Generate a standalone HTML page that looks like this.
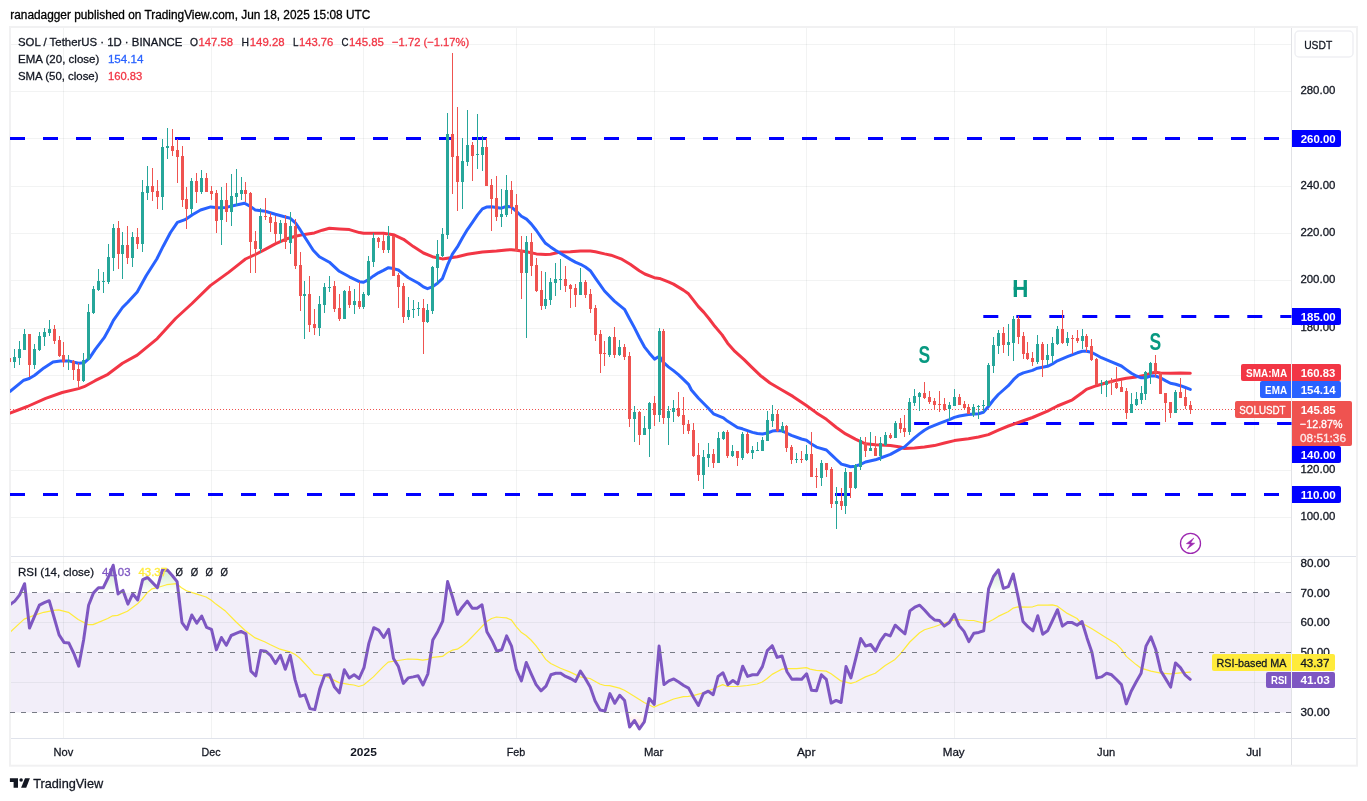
<!DOCTYPE html>
<html><head><meta charset="utf-8"><title>SOL / TetherUS</title><style>html,body{margin:0;padding:0;background:#fff;}body{width:1367px;height:801px;overflow:hidden;font-family:"Liberation Sans",sans-serif;}</style></head><body>
<svg width="1367" height="801" viewBox="0 0 1367 801" style="display:block;will-change:transform;opacity:0.999">
<defs>
<clipPath id="cm"><rect x="10" y="28" width="1281.5" height="528"/></clipPath>
<clipPath id="cr"><rect x="11" y="557" width="1280.5" height="181"/></clipPath>
<clipPath id="c70"><rect x="11" y="557" width="1280.5" height="35.7"/></clipPath>
<clipPath id="c30"><rect x="11" y="712.5" width="1280.5" height="25.5"/></clipPath>
<linearGradient id="gob" gradientUnits="userSpaceOnUse" x1="0" y1="502.9" x2="0" y2="592.7"><stop offset="0" stop-color="#4caf50" stop-opacity="1"/><stop offset="1" stop-color="#4caf50" stop-opacity="0"/></linearGradient>
<linearGradient id="gos" gradientUnits="userSpaceOnUse" x1="0" y1="712.5" x2="0" y2="802.4"><stop offset="0" stop-color="#ff5252" stop-opacity="0"/><stop offset="1" stop-color="#ff5252" stop-opacity="1"/></linearGradient>
</defs>
<rect width="1367" height="801" fill="#ffffff"/>
<rect x="10" y="27" width="1347" height="738.7" fill="#ffffff" stroke="#f1f1f2" stroke-width="2"/>
<rect x="11" y="592.7" width="1280.5" height="119.8" fill="#7e57c2" fill-opacity="0.1"/>
<line x1="63.5" y1="28" x2="63.5" y2="738" stroke="rgba(42,46,57,0.06)" stroke-width="1"/>
<line x1="211.5" y1="28" x2="211.5" y2="738" stroke="rgba(42,46,57,0.06)" stroke-width="1"/>
<line x1="363.5" y1="28" x2="363.5" y2="738" stroke="rgba(42,46,57,0.06)" stroke-width="1"/>
<line x1="516.5" y1="28" x2="516.5" y2="738" stroke="rgba(42,46,57,0.06)" stroke-width="1"/>
<line x1="654.5" y1="28" x2="654.5" y2="738" stroke="rgba(42,46,57,0.06)" stroke-width="1"/>
<line x1="806.5" y1="28" x2="806.5" y2="738" stroke="rgba(42,46,57,0.06)" stroke-width="1"/>
<line x1="954.5" y1="28" x2="954.5" y2="738" stroke="rgba(42,46,57,0.06)" stroke-width="1"/>
<line x1="1106.5" y1="28" x2="1106.5" y2="738" stroke="rgba(42,46,57,0.06)" stroke-width="1"/>
<line x1="1254.5" y1="28" x2="1254.5" y2="738" stroke="rgba(42,46,57,0.06)" stroke-width="1"/>
<line x1="11" y1="517.5" x2="1291" y2="517.5" stroke="rgba(42,46,57,0.06)" stroke-width="1"/>
<line x1="11" y1="470.5" x2="1291" y2="470.5" stroke="rgba(42,46,57,0.06)" stroke-width="1"/>
<line x1="11" y1="423.5" x2="1291" y2="423.5" stroke="rgba(42,46,57,0.06)" stroke-width="1"/>
<line x1="11" y1="375.5" x2="1291" y2="375.5" stroke="rgba(42,46,57,0.06)" stroke-width="1"/>
<line x1="11" y1="328.5" x2="1291" y2="328.5" stroke="rgba(42,46,57,0.06)" stroke-width="1"/>
<line x1="11" y1="280.5" x2="1291" y2="280.5" stroke="rgba(42,46,57,0.06)" stroke-width="1"/>
<line x1="11" y1="233.5" x2="1291" y2="233.5" stroke="rgba(42,46,57,0.06)" stroke-width="1"/>
<line x1="11" y1="186.5" x2="1291" y2="186.5" stroke="rgba(42,46,57,0.06)" stroke-width="1"/>
<line x1="11" y1="138.5" x2="1291" y2="138.5" stroke="rgba(42,46,57,0.06)" stroke-width="1"/>
<line x1="11" y1="91.5" x2="1291" y2="91.5" stroke="rgba(42,46,57,0.06)" stroke-width="1"/>
<line x1="11" y1="44.5" x2="1291" y2="44.5" stroke="rgba(42,46,57,0.06)" stroke-width="1"/>
<line x1="11" y1="562.5" x2="1291" y2="562.5" stroke="rgba(42,46,57,0.06)" stroke-width="1"/>
<line x1="11" y1="622.5" x2="1291" y2="622.5" stroke="rgba(42,46,57,0.06)" stroke-width="1"/>
<line x1="11" y1="682.5" x2="1291" y2="682.5" stroke="rgba(42,46,57,0.06)" stroke-width="1"/>
<line x1="11" y1="556.5" x2="1356" y2="556.5" stroke="#e0e3eb" stroke-width="1"/>
<line x1="11" y1="738.5" x2="1356" y2="738.5" stroke="#e0e3eb" stroke-width="1"/>
<line x1="1291.5" y1="28" x2="1291.5" y2="765" stroke="#e1e2e6" stroke-width="1"/>
<g clip-path="url(#cm)">
<line x1="10.0" y1="138.5" x2="1292.0" y2="138.5" stroke="#0000ff" stroke-width="3" stroke-dasharray="15 18"/>
<line x1="10.0" y1="494.5" x2="1292.0" y2="494.5" stroke="#0000ff" stroke-width="3" stroke-dasharray="15 18"/>
<line x1="983.3" y1="316.5" x2="1292.0" y2="316.5" stroke="#0000ff" stroke-width="3" stroke-dasharray="15 18"/>
<line x1="914.1" y1="423.5" x2="1292.0" y2="423.5" stroke="#0000ff" stroke-width="3" stroke-dasharray="15 18"/>
<line x1="10" y1="409.5" x2="1291" y2="409.5" stroke="#ef5350" stroke-width="1" stroke-dasharray="1 2"/>
<polyline points="10.0,413.2 27.4,406.5 45.7,398.4 62.2,392.5 78.6,388.6 84.1,386.7 95.1,380.7 107.9,374.3 122.5,363.3 137.2,355.1 157.3,338.6 175.6,318.5 192.0,303.5 210.3,285.6 228.6,272.4 240.0,263.4 245.5,259.0 255.4,254.5 265.2,249.3 275.3,243.9 285.4,239.3 295.4,236.2 304.4,234.4 314.4,232.9 322.3,230.2 329.4,228.3 339.3,228.9 349.4,229.6 359.4,232.6 363.6,233.3 373.5,233.3 383.4,233.3 393.4,234.7 403.5,239.3 413.4,246.6 423.4,253.0 432.4,256.7 442.4,258.9 447.4,258.2 457.4,256.7 467.4,254.2 482.4,251.9 496.5,251.0 506.4,249.9 511.5,249.7 516.4,250.2 526.5,251.7 536.4,253.9 545.5,254.6 550.5,254.2 560.3,252.0 570.4,251.7 580.5,251.0 590.3,251.0 595.4,251.7 604.6,253.9 611.0,255.2 621.0,258.8 630.2,264.3 639.3,270.7 644.8,274.0 654.3,277.7 659.5,278.4 668.4,281.9 673.5,284.1 683.4,290.1 688.5,293.8 693.4,300.2 698.4,306.6 703.9,312.4 709.3,319.0 714.8,326.3 722.1,334.9 727.6,343.2 734.9,351.4 744.1,359.6 751.4,366.9 760.0,375.2 770.0,383.0 781.9,390.0 792.9,396.4 806.4,405.5 816.5,412.9 826.4,419.3 836.4,427.5 845.6,433.9 855.4,439.1 865.5,443.8 875.4,444.8 890.4,445.6 900.4,447.0 904.4,448.5 914.5,448.0 924.4,447.0 934.4,445.6 944.5,443.0 954.4,440.6 968.4,438.8 978.5,437.0 988.4,434.6 998.4,430.2 1008.4,426.0 1018.4,422.5 1032.5,417.5 1047.5,411.2 1057.4,406.0 1072.4,399.8 1082.4,392.5 1086.4,389.4 1096.5,385.7 1106.4,382.8 1116.4,380.2 1126.3,378.2 1136.4,376.9 1145.5,375.1 1150.4,373.3 1155.6,372.3 1160.5,372.9 1170.4,373.3 1180.4,372.9 1190.3,373.3" fill="none" stroke="#f23645" stroke-width="3" stroke-linejoin="round" stroke-linecap="round" />
<polyline points="10.2,391.3 23.8,380.2 29.3,378.5 34.7,375.2 43.9,367.9 53.0,362.0 60.4,361.0 69.5,361.1 78.6,363.3 84.1,362.8 89.6,357.8 95.1,349.6 104.2,337.7 109.7,327.7 113.4,320.4 122.5,307.5 128.0,302.0 137.2,292.0 146.3,275.5 156.8,259.0 163.2,246.2 170.5,232.5 177.4,222.4 185.1,219.7 192.4,214.7 200.6,210.0 210.7,206.9 218.0,207.8 226.2,207.4 236.3,205.0 244.5,203.2 250.4,206.4 255.4,210.1 265.2,211.3 275.3,214.3 285.4,217.0 290.3,218.3 295.4,222.9 300.4,230.2 306.8,240.2 313.2,250.3 319.4,256.7 329.4,262.2 339.3,271.3 349.4,276.8 359.4,281.7 363.6,282.3 368.6,279.6 373.5,275.9 378.4,272.8 383.4,270.4 388.5,267.7 393.4,268.6 398.4,270.0 403.5,274.1 408.4,277.7 418.5,283.2 423.4,286.9 427.5,288.7 432.4,286.9 437.5,283.2 442.4,278.6 447.5,265.2 452.4,254.2 457.4,246.9 462.5,237.8 467.4,229.6 472.6,222.2 477.5,214.9 482.4,208.9 486.5,207.1 491.4,206.7 496.5,207.6 501.4,208.2 506.4,206.3 511.5,207.1 516.4,211.3 521.4,216.2 526.5,219.1 531.4,224.1 536.4,230.5 541.5,237.8 545.5,243.3 550.5,246.9 555.4,250.2 560.3,253.3 565.5,256.4 570.4,259.4 575.3,262.1 580.5,264.3 585.4,267.0 590.3,270.7 595.4,278.2 604.5,291.0 614.4,301.1 624.5,309.3 629.4,318.5 634.4,327.6 639.5,337.7 644.4,346.8 649.4,353.2 654.5,359.1 659.4,356.3 663.4,362.4 668.4,366.9 673.5,370.6 678.4,374.6 683.4,379.4 688.5,384.3 691.4,390.0 698.5,398.2 708.4,408.3 713.5,413.8 723.4,417.8 727.4,421.1 737.5,427.5 742.4,428.8 752.5,432.4 757.4,433.5 762.5,433.9 767.5,433.0 772.4,431.1 777.5,430.6 782.5,431.1 786.5,433.0 791.4,435.4 801.5,439.0 806.4,440.3 811.4,443.9 816.5,447.1 826.4,450.0 831.5,454.9 836.4,459.5 841.4,464.1 845.6,465.3 850.5,466.8 855.4,466.2 860.5,464.4 865.5,462.0 875.4,459.8 880.5,458.0 890.4,454.4 900.4,448.9 904.4,447.0 909.4,442.5 914.5,437.9 919.4,433.9 924.4,430.2 929.5,427.3 939.4,423.3 949.4,419.6 954.4,417.4 959.5,416.0 968.4,414.5 978.5,413.8 983.4,412.3 988.4,406.5 993.4,400.0 998.3,394.5 1003.4,390.0 1008.3,385.7 1013.5,379.7 1018.4,375.2 1023.3,372.9 1032.5,370.4 1037.4,368.2 1047.5,366.3 1052.4,364.0 1057.4,360.8 1067.4,356.7 1077.3,352.8 1082.4,351.3 1086.4,351.3 1091.4,352.2 1096.5,355.0 1101.4,357.7 1111.5,361.9 1121.4,366.0 1126.3,369.6 1131.4,373.3 1136.4,376.0 1141.3,377.8 1145.5,377.8 1150.4,376.0 1155.6,376.0 1160.5,377.8 1165.4,380.6 1170.4,383.3 1175.5,384.2 1180.4,385.7 1185.4,387.5 1190.3,389.4" fill="none" stroke="#2962ff" stroke-width="3" stroke-linejoin="round" stroke-linecap="round" />
<rect x="9" y="358" width="1" height="4" fill="#ef5350"/>
<rect x="8" y="358" width="3" height="4" fill="#ef5350"/>
<rect x="14" y="349" width="1" height="19" fill="#26a69a"/>
<rect x="13" y="357" width="3" height="5" fill="#26a69a"/>
<rect x="19" y="341" width="1" height="24" fill="#26a69a"/>
<rect x="18" y="349" width="3" height="9" fill="#26a69a"/>
<rect x="24" y="329" width="1" height="21" fill="#26a69a"/>
<rect x="23" y="334" width="3" height="16" fill="#26a69a"/>
<rect x="29" y="334" width="1" height="43" fill="#ef5350"/>
<rect x="28" y="334" width="3" height="31" fill="#ef5350"/>
<rect x="34" y="344" width="1" height="25" fill="#26a69a"/>
<rect x="33" y="349" width="3" height="16" fill="#26a69a"/>
<rect x="39" y="332" width="1" height="19" fill="#26a69a"/>
<rect x="38" y="336" width="3" height="14" fill="#26a69a"/>
<rect x="44" y="328" width="1" height="18" fill="#26a69a"/>
<rect x="43" y="332" width="3" height="5" fill="#26a69a"/>
<rect x="49" y="320" width="1" height="16" fill="#26a69a"/>
<rect x="48" y="329" width="3" height="4" fill="#26a69a"/>
<rect x="54" y="325" width="1" height="19" fill="#ef5350"/>
<rect x="53" y="329" width="3" height="12" fill="#ef5350"/>
<rect x="59" y="336" width="1" height="21" fill="#ef5350"/>
<rect x="58" y="340" width="3" height="16" fill="#ef5350"/>
<rect x="63" y="342" width="1" height="25" fill="#ef5350"/>
<rect x="62" y="355" width="3" height="7" fill="#ef5350"/>
<rect x="68" y="355" width="1" height="15" fill="#26a69a"/>
<rect x="67" y="361" width="3" height="1" fill="#26a69a"/>
<rect x="73" y="360" width="1" height="20" fill="#ef5350"/>
<rect x="72" y="361" width="3" height="9" fill="#ef5350"/>
<rect x="78" y="363" width="1" height="24" fill="#ef5350"/>
<rect x="77" y="369" width="3" height="12" fill="#ef5350"/>
<rect x="83" y="353" width="1" height="29" fill="#26a69a"/>
<rect x="82" y="360" width="3" height="21" fill="#26a69a"/>
<rect x="88" y="304" width="1" height="56" fill="#26a69a"/>
<rect x="87" y="312" width="3" height="48" fill="#26a69a"/>
<rect x="93" y="286" width="1" height="28" fill="#26a69a"/>
<rect x="92" y="289" width="3" height="24" fill="#26a69a"/>
<rect x="98" y="269" width="1" height="22" fill="#26a69a"/>
<rect x="97" y="281" width="3" height="9" fill="#26a69a"/>
<rect x="103" y="272" width="1" height="21" fill="#26a69a"/>
<rect x="102" y="281" width="3" height="1" fill="#26a69a"/>
<rect x="108" y="244" width="1" height="40" fill="#26a69a"/>
<rect x="107" y="257" width="3" height="25" fill="#26a69a"/>
<rect x="113" y="224" width="1" height="47" fill="#26a69a"/>
<rect x="112" y="228" width="3" height="30" fill="#26a69a"/>
<rect x="118" y="221" width="1" height="48" fill="#ef5350"/>
<rect x="117" y="228" width="3" height="26" fill="#ef5350"/>
<rect x="122" y="232" width="1" height="47" fill="#26a69a"/>
<rect x="121" y="245" width="3" height="9" fill="#26a69a"/>
<rect x="127" y="226" width="1" height="38" fill="#ef5350"/>
<rect x="126" y="245" width="3" height="13" fill="#ef5350"/>
<rect x="132" y="232" width="1" height="35" fill="#26a69a"/>
<rect x="131" y="237" width="3" height="21" fill="#26a69a"/>
<rect x="137" y="228" width="1" height="21" fill="#ef5350"/>
<rect x="136" y="237" width="3" height="7" fill="#ef5350"/>
<rect x="142" y="180" width="1" height="72" fill="#26a69a"/>
<rect x="141" y="192" width="3" height="52" fill="#26a69a"/>
<rect x="147" y="166" width="1" height="34" fill="#26a69a"/>
<rect x="146" y="186" width="3" height="7" fill="#26a69a"/>
<rect x="152" y="168" width="1" height="33" fill="#ef5350"/>
<rect x="151" y="186" width="3" height="6" fill="#ef5350"/>
<rect x="157" y="180" width="1" height="29" fill="#ef5350"/>
<rect x="156" y="191" width="3" height="6" fill="#ef5350"/>
<rect x="162" y="139" width="1" height="71" fill="#26a69a"/>
<rect x="161" y="147" width="3" height="50" fill="#26a69a"/>
<rect x="167" y="128" width="1" height="31" fill="#26a69a"/>
<rect x="166" y="146" width="3" height="2" fill="#26a69a"/>
<rect x="172" y="129" width="1" height="27" fill="#ef5350"/>
<rect x="171" y="146" width="3" height="5" fill="#ef5350"/>
<rect x="177" y="139" width="1" height="44" fill="#ef5350"/>
<rect x="176" y="150" width="3" height="7" fill="#ef5350"/>
<rect x="182" y="146" width="1" height="61" fill="#ef5350"/>
<rect x="181" y="156" width="3" height="44" fill="#ef5350"/>
<rect x="186" y="187" width="1" height="42" fill="#ef5350"/>
<rect x="185" y="199" width="3" height="10" fill="#ef5350"/>
<rect x="191" y="178" width="1" height="36" fill="#26a69a"/>
<rect x="190" y="181" width="3" height="28" fill="#26a69a"/>
<rect x="196" y="173" width="1" height="30" fill="#ef5350"/>
<rect x="195" y="181" width="3" height="11" fill="#ef5350"/>
<rect x="201" y="170" width="1" height="24" fill="#26a69a"/>
<rect x="200" y="178" width="3" height="14" fill="#26a69a"/>
<rect x="206" y="173" width="1" height="19" fill="#ef5350"/>
<rect x="205" y="178" width="3" height="14" fill="#ef5350"/>
<rect x="211" y="186" width="1" height="14" fill="#ef5350"/>
<rect x="210" y="191" width="3" height="3" fill="#ef5350"/>
<rect x="216" y="190" width="1" height="43" fill="#ef5350"/>
<rect x="215" y="193" width="3" height="28" fill="#ef5350"/>
<rect x="221" y="187" width="1" height="58" fill="#26a69a"/>
<rect x="220" y="200" width="3" height="20" fill="#26a69a"/>
<rect x="226" y="183" width="1" height="39" fill="#ef5350"/>
<rect x="225" y="200" width="3" height="12" fill="#ef5350"/>
<rect x="231" y="174" width="1" height="52" fill="#26a69a"/>
<rect x="230" y="196" width="3" height="16" fill="#26a69a"/>
<rect x="236" y="169" width="1" height="37" fill="#26a69a"/>
<rect x="235" y="193" width="3" height="4" fill="#26a69a"/>
<rect x="241" y="177" width="1" height="23" fill="#26a69a"/>
<rect x="240" y="190" width="3" height="4" fill="#26a69a"/>
<rect x="245" y="182" width="1" height="20" fill="#ef5350"/>
<rect x="244" y="190" width="3" height="4" fill="#ef5350"/>
<rect x="250" y="192" width="1" height="81" fill="#ef5350"/>
<rect x="249" y="193" width="3" height="49" fill="#ef5350"/>
<rect x="255" y="231" width="1" height="42" fill="#ef5350"/>
<rect x="254" y="241" width="3" height="8" fill="#ef5350"/>
<rect x="260" y="208" width="1" height="45" fill="#26a69a"/>
<rect x="259" y="216" width="3" height="33" fill="#26a69a"/>
<rect x="265" y="198" width="1" height="22" fill="#ef5350"/>
<rect x="264" y="216" width="3" height="1" fill="#ef5350"/>
<rect x="270" y="213" width="1" height="19" fill="#ef5350"/>
<rect x="269" y="217" width="3" height="6" fill="#ef5350"/>
<rect x="275" y="216" width="1" height="27" fill="#ef5350"/>
<rect x="274" y="222" width="3" height="12" fill="#ef5350"/>
<rect x="280" y="220" width="1" height="23" fill="#26a69a"/>
<rect x="279" y="223" width="3" height="11" fill="#26a69a"/>
<rect x="285" y="215" width="1" height="34" fill="#ef5350"/>
<rect x="284" y="223" width="3" height="19" fill="#ef5350"/>
<rect x="290" y="212" width="1" height="42" fill="#26a69a"/>
<rect x="289" y="226" width="3" height="17" fill="#26a69a"/>
<rect x="295" y="219" width="1" height="50" fill="#ef5350"/>
<rect x="294" y="226" width="3" height="40" fill="#ef5350"/>
<rect x="300" y="252" width="1" height="59" fill="#ef5350"/>
<rect x="299" y="265" width="3" height="31" fill="#ef5350"/>
<rect x="304" y="281" width="1" height="58" fill="#26a69a"/>
<rect x="303" y="294" width="3" height="2" fill="#26a69a"/>
<rect x="309" y="276" width="1" height="56" fill="#ef5350"/>
<rect x="308" y="294" width="3" height="31" fill="#ef5350"/>
<rect x="314" y="309" width="1" height="26" fill="#ef5350"/>
<rect x="313" y="324" width="3" height="4" fill="#ef5350"/>
<rect x="319" y="296" width="1" height="40" fill="#26a69a"/>
<rect x="318" y="304" width="3" height="24" fill="#26a69a"/>
<rect x="324" y="283" width="1" height="30" fill="#26a69a"/>
<rect x="323" y="287" width="3" height="18" fill="#26a69a"/>
<rect x="329" y="276" width="1" height="16" fill="#26a69a"/>
<rect x="328" y="287" width="3" height="1" fill="#26a69a"/>
<rect x="334" y="281" width="1" height="31" fill="#ef5350"/>
<rect x="333" y="286" width="3" height="23" fill="#ef5350"/>
<rect x="339" y="294" width="1" height="27" fill="#ef5350"/>
<rect x="338" y="308" width="3" height="11" fill="#ef5350"/>
<rect x="344" y="290" width="1" height="29" fill="#26a69a"/>
<rect x="343" y="291" width="3" height="28" fill="#26a69a"/>
<rect x="349" y="286" width="1" height="22" fill="#ef5350"/>
<rect x="348" y="291" width="3" height="14" fill="#ef5350"/>
<rect x="354" y="289" width="1" height="25" fill="#26a69a"/>
<rect x="353" y="301" width="3" height="4" fill="#26a69a"/>
<rect x="359" y="282" width="1" height="27" fill="#ef5350"/>
<rect x="358" y="301" width="3" height="6" fill="#ef5350"/>
<rect x="363" y="292" width="1" height="17" fill="#26a69a"/>
<rect x="362" y="294" width="3" height="13" fill="#26a69a"/>
<rect x="368" y="256" width="1" height="40" fill="#26a69a"/>
<rect x="367" y="261" width="3" height="34" fill="#26a69a"/>
<rect x="373" y="233" width="1" height="34" fill="#26a69a"/>
<rect x="372" y="238" width="3" height="24" fill="#26a69a"/>
<rect x="378" y="237" width="1" height="11" fill="#ef5350"/>
<rect x="377" y="238" width="3" height="4" fill="#ef5350"/>
<rect x="383" y="234" width="1" height="19" fill="#ef5350"/>
<rect x="382" y="241" width="3" height="9" fill="#ef5350"/>
<rect x="388" y="226" width="1" height="27" fill="#26a69a"/>
<rect x="387" y="236" width="3" height="14" fill="#26a69a"/>
<rect x="393" y="236" width="1" height="40" fill="#ef5350"/>
<rect x="392" y="236" width="3" height="40" fill="#ef5350"/>
<rect x="398" y="273" width="1" height="35" fill="#ef5350"/>
<rect x="397" y="275" width="3" height="12" fill="#ef5350"/>
<rect x="403" y="283" width="1" height="40" fill="#ef5350"/>
<rect x="402" y="286" width="3" height="31" fill="#ef5350"/>
<rect x="408" y="297" width="1" height="23" fill="#26a69a"/>
<rect x="407" y="310" width="3" height="7" fill="#26a69a"/>
<rect x="413" y="300" width="1" height="18" fill="#26a69a"/>
<rect x="412" y="309" width="3" height="1" fill="#26a69a"/>
<rect x="418" y="302" width="1" height="14" fill="#26a69a"/>
<rect x="417" y="308" width="3" height="1" fill="#26a69a"/>
<rect x="423" y="299" width="1" height="55" fill="#ef5350"/>
<rect x="422" y="308" width="3" height="14" fill="#ef5350"/>
<rect x="427" y="304" width="1" height="19" fill="#26a69a"/>
<rect x="426" y="310" width="3" height="12" fill="#26a69a"/>
<rect x="432" y="266" width="1" height="48" fill="#26a69a"/>
<rect x="431" y="267" width="3" height="44" fill="#26a69a"/>
<rect x="437" y="240" width="1" height="44" fill="#26a69a"/>
<rect x="436" y="254" width="3" height="14" fill="#26a69a"/>
<rect x="442" y="228" width="1" height="29" fill="#26a69a"/>
<rect x="441" y="234" width="3" height="22" fill="#26a69a"/>
<rect x="447" y="113" width="1" height="126" fill="#26a69a"/>
<rect x="446" y="134" width="3" height="101" fill="#26a69a"/>
<rect x="452" y="53" width="1" height="141" fill="#ef5350"/>
<rect x="451" y="134" width="3" height="23" fill="#ef5350"/>
<rect x="457" y="107" width="1" height="104" fill="#ef5350"/>
<rect x="456" y="156" width="3" height="26" fill="#ef5350"/>
<rect x="462" y="138" width="1" height="71" fill="#26a69a"/>
<rect x="461" y="161" width="3" height="21" fill="#26a69a"/>
<rect x="467" y="110" width="1" height="56" fill="#26a69a"/>
<rect x="466" y="145" width="3" height="17" fill="#26a69a"/>
<rect x="472" y="142" width="1" height="39" fill="#ef5350"/>
<rect x="471" y="145" width="3" height="11" fill="#ef5350"/>
<rect x="477" y="114" width="1" height="55" fill="#26a69a"/>
<rect x="476" y="154" width="3" height="1" fill="#26a69a"/>
<rect x="482" y="136" width="1" height="35" fill="#26a69a"/>
<rect x="481" y="147" width="3" height="8" fill="#26a69a"/>
<rect x="486" y="138" width="1" height="48" fill="#ef5350"/>
<rect x="485" y="147" width="3" height="39" fill="#ef5350"/>
<rect x="491" y="179" width="1" height="52" fill="#ef5350"/>
<rect x="490" y="185" width="3" height="14" fill="#ef5350"/>
<rect x="496" y="176" width="1" height="45" fill="#ef5350"/>
<rect x="495" y="198" width="3" height="19" fill="#ef5350"/>
<rect x="501" y="189" width="1" height="38" fill="#26a69a"/>
<rect x="500" y="214" width="3" height="3" fill="#26a69a"/>
<rect x="506" y="175" width="1" height="42" fill="#26a69a"/>
<rect x="505" y="190" width="3" height="25" fill="#26a69a"/>
<rect x="511" y="181" width="1" height="33" fill="#ef5350"/>
<rect x="510" y="190" width="3" height="17" fill="#ef5350"/>
<rect x="516" y="194" width="1" height="57" fill="#ef5350"/>
<rect x="515" y="205" width="3" height="46" fill="#ef5350"/>
<rect x="521" y="236" width="1" height="63" fill="#ef5350"/>
<rect x="520" y="250" width="3" height="23" fill="#ef5350"/>
<rect x="526" y="236" width="1" height="102" fill="#26a69a"/>
<rect x="525" y="242" width="3" height="31" fill="#26a69a"/>
<rect x="531" y="233" width="1" height="43" fill="#ef5350"/>
<rect x="530" y="242" width="3" height="24" fill="#ef5350"/>
<rect x="536" y="258" width="1" height="34" fill="#ef5350"/>
<rect x="535" y="265" width="3" height="26" fill="#ef5350"/>
<rect x="541" y="271" width="1" height="39" fill="#ef5350"/>
<rect x="540" y="290" width="3" height="16" fill="#ef5350"/>
<rect x="545" y="272" width="1" height="37" fill="#26a69a"/>
<rect x="544" y="299" width="3" height="7" fill="#26a69a"/>
<rect x="550" y="278" width="1" height="27" fill="#26a69a"/>
<rect x="549" y="282" width="3" height="18" fill="#26a69a"/>
<rect x="555" y="263" width="1" height="33" fill="#26a69a"/>
<rect x="554" y="279" width="3" height="4" fill="#26a69a"/>
<rect x="560" y="259" width="1" height="31" fill="#26a69a"/>
<rect x="559" y="279" width="3" height="1" fill="#26a69a"/>
<rect x="565" y="266" width="1" height="26" fill="#ef5350"/>
<rect x="564" y="279" width="3" height="7" fill="#ef5350"/>
<rect x="570" y="284" width="1" height="24" fill="#ef5350"/>
<rect x="569" y="285" width="3" height="4" fill="#ef5350"/>
<rect x="575" y="284" width="1" height="23" fill="#ef5350"/>
<rect x="574" y="288" width="3" height="7" fill="#ef5350"/>
<rect x="580" y="268" width="1" height="27" fill="#26a69a"/>
<rect x="579" y="282" width="3" height="13" fill="#26a69a"/>
<rect x="585" y="280" width="1" height="18" fill="#ef5350"/>
<rect x="584" y="282" width="3" height="13" fill="#ef5350"/>
<rect x="590" y="289" width="1" height="24" fill="#ef5350"/>
<rect x="589" y="294" width="3" height="15" fill="#ef5350"/>
<rect x="595" y="305" width="1" height="36" fill="#ef5350"/>
<rect x="594" y="308" width="3" height="27" fill="#ef5350"/>
<rect x="600" y="330" width="1" height="43" fill="#ef5350"/>
<rect x="599" y="334" width="3" height="20" fill="#ef5350"/>
<rect x="604" y="341" width="1" height="25" fill="#ef5350"/>
<rect x="603" y="353" width="3" height="1" fill="#ef5350"/>
<rect x="609" y="336" width="1" height="21" fill="#26a69a"/>
<rect x="608" y="337" width="3" height="18" fill="#26a69a"/>
<rect x="614" y="327" width="1" height="31" fill="#ef5350"/>
<rect x="613" y="337" width="3" height="18" fill="#ef5350"/>
<rect x="619" y="340" width="1" height="16" fill="#26a69a"/>
<rect x="618" y="347" width="3" height="8" fill="#26a69a"/>
<rect x="624" y="344" width="1" height="16" fill="#ef5350"/>
<rect x="623" y="347" width="3" height="10" fill="#ef5350"/>
<rect x="629" y="352" width="1" height="75" fill="#ef5350"/>
<rect x="628" y="356" width="3" height="63" fill="#ef5350"/>
<rect x="634" y="406" width="1" height="36" fill="#26a69a"/>
<rect x="633" y="412" width="3" height="7" fill="#26a69a"/>
<rect x="639" y="411" width="1" height="34" fill="#ef5350"/>
<rect x="638" y="412" width="3" height="23" fill="#ef5350"/>
<rect x="644" y="416" width="1" height="19" fill="#26a69a"/>
<rect x="643" y="428" width="3" height="7" fill="#26a69a"/>
<rect x="649" y="402" width="1" height="55" fill="#26a69a"/>
<rect x="648" y="403" width="3" height="26" fill="#26a69a"/>
<rect x="654" y="396" width="1" height="30" fill="#ef5350"/>
<rect x="653" y="403" width="3" height="12" fill="#ef5350"/>
<rect x="659" y="328" width="1" height="94" fill="#26a69a"/>
<rect x="658" y="331" width="3" height="84" fill="#26a69a"/>
<rect x="663" y="329" width="1" height="95" fill="#ef5350"/>
<rect x="662" y="331" width="3" height="87" fill="#ef5350"/>
<rect x="668" y="406" width="1" height="39" fill="#26a69a"/>
<rect x="667" y="411" width="3" height="7" fill="#26a69a"/>
<rect x="673" y="400" width="1" height="22" fill="#26a69a"/>
<rect x="672" y="408" width="3" height="4" fill="#26a69a"/>
<rect x="678" y="392" width="1" height="25" fill="#ef5350"/>
<rect x="677" y="408" width="3" height="8" fill="#ef5350"/>
<rect x="683" y="397" width="1" height="37" fill="#ef5350"/>
<rect x="682" y="415" width="3" height="10" fill="#ef5350"/>
<rect x="688" y="420" width="1" height="14" fill="#ef5350"/>
<rect x="687" y="424" width="3" height="7" fill="#ef5350"/>
<rect x="693" y="423" width="1" height="34" fill="#ef5350"/>
<rect x="692" y="430" width="3" height="26" fill="#ef5350"/>
<rect x="698" y="443" width="1" height="38" fill="#ef5350"/>
<rect x="697" y="455" width="3" height="20" fill="#ef5350"/>
<rect x="703" y="450" width="1" height="39" fill="#26a69a"/>
<rect x="702" y="457" width="3" height="18" fill="#26a69a"/>
<rect x="708" y="443" width="1" height="24" fill="#26a69a"/>
<rect x="707" y="454" width="3" height="4" fill="#26a69a"/>
<rect x="713" y="449" width="1" height="19" fill="#ef5350"/>
<rect x="712" y="454" width="3" height="9" fill="#ef5350"/>
<rect x="718" y="432" width="1" height="31" fill="#26a69a"/>
<rect x="717" y="438" width="3" height="25" fill="#26a69a"/>
<rect x="723" y="431" width="1" height="9" fill="#26a69a"/>
<rect x="722" y="432" width="3" height="7" fill="#26a69a"/>
<rect x="727" y="430" width="1" height="28" fill="#ef5350"/>
<rect x="726" y="432" width="3" height="24" fill="#ef5350"/>
<rect x="732" y="445" width="1" height="12" fill="#26a69a"/>
<rect x="731" y="451" width="3" height="5" fill="#26a69a"/>
<rect x="737" y="451" width="1" height="15" fill="#ef5350"/>
<rect x="736" y="451" width="3" height="7" fill="#ef5350"/>
<rect x="742" y="432" width="1" height="28" fill="#26a69a"/>
<rect x="741" y="434" width="3" height="24" fill="#26a69a"/>
<rect x="747" y="432" width="1" height="22" fill="#ef5350"/>
<rect x="746" y="434" width="3" height="19" fill="#ef5350"/>
<rect x="752" y="446" width="1" height="13" fill="#26a69a"/>
<rect x="751" y="450" width="3" height="3" fill="#26a69a"/>
<rect x="757" y="442" width="1" height="9" fill="#26a69a"/>
<rect x="756" y="450" width="3" height="1" fill="#26a69a"/>
<rect x="762" y="437" width="1" height="14" fill="#26a69a"/>
<rect x="761" y="440" width="3" height="11" fill="#26a69a"/>
<rect x="767" y="411" width="1" height="30" fill="#26a69a"/>
<rect x="766" y="420" width="3" height="21" fill="#26a69a"/>
<rect x="772" y="405" width="1" height="22" fill="#26a69a"/>
<rect x="771" y="414" width="3" height="7" fill="#26a69a"/>
<rect x="777" y="410" width="1" height="22" fill="#ef5350"/>
<rect x="776" y="414" width="3" height="17" fill="#ef5350"/>
<rect x="782" y="422" width="1" height="11" fill="#26a69a"/>
<rect x="781" y="426" width="3" height="5" fill="#26a69a"/>
<rect x="786" y="425" width="1" height="27" fill="#ef5350"/>
<rect x="785" y="426" width="3" height="22" fill="#ef5350"/>
<rect x="791" y="445" width="1" height="19" fill="#ef5350"/>
<rect x="790" y="447" width="3" height="13" fill="#ef5350"/>
<rect x="796" y="453" width="1" height="10" fill="#26a69a"/>
<rect x="795" y="459" width="3" height="1" fill="#26a69a"/>
<rect x="801" y="451" width="1" height="12" fill="#ef5350"/>
<rect x="800" y="459" width="3" height="1" fill="#ef5350"/>
<rect x="806" y="445" width="1" height="16" fill="#26a69a"/>
<rect x="805" y="454" width="3" height="6" fill="#26a69a"/>
<rect x="811" y="432" width="1" height="45" fill="#ef5350"/>
<rect x="810" y="454" width="3" height="23" fill="#ef5350"/>
<rect x="816" y="468" width="1" height="20" fill="#ef5350"/>
<rect x="815" y="476" width="3" height="1" fill="#ef5350"/>
<rect x="821" y="460" width="1" height="26" fill="#26a69a"/>
<rect x="820" y="463" width="3" height="15" fill="#26a69a"/>
<rect x="826" y="463" width="1" height="14" fill="#ef5350"/>
<rect x="825" y="463" width="3" height="7" fill="#ef5350"/>
<rect x="831" y="467" width="1" height="41" fill="#ef5350"/>
<rect x="830" y="469" width="3" height="35" fill="#ef5350"/>
<rect x="836" y="487" width="1" height="42" fill="#26a69a"/>
<rect x="835" y="501" width="3" height="3" fill="#26a69a"/>
<rect x="841" y="488" width="1" height="22" fill="#ef5350"/>
<rect x="840" y="501" width="3" height="5" fill="#ef5350"/>
<rect x="845" y="468" width="1" height="46" fill="#26a69a"/>
<rect x="844" y="472" width="3" height="34" fill="#26a69a"/>
<rect x="850" y="472" width="1" height="26" fill="#ef5350"/>
<rect x="849" y="472" width="3" height="16" fill="#ef5350"/>
<rect x="855" y="464" width="1" height="25" fill="#26a69a"/>
<rect x="854" y="465" width="3" height="23" fill="#26a69a"/>
<rect x="860" y="437" width="1" height="33" fill="#26a69a"/>
<rect x="859" y="440" width="3" height="27" fill="#26a69a"/>
<rect x="865" y="437" width="1" height="20" fill="#ef5350"/>
<rect x="864" y="443" width="3" height="8" fill="#ef5350"/>
<rect x="870" y="432" width="1" height="19" fill="#26a69a"/>
<rect x="869" y="448" width="3" height="3" fill="#26a69a"/>
<rect x="875" y="436" width="1" height="20" fill="#ef5350"/>
<rect x="874" y="448" width="3" height="8" fill="#ef5350"/>
<rect x="880" y="437" width="1" height="24" fill="#26a69a"/>
<rect x="879" y="443" width="3" height="13" fill="#26a69a"/>
<rect x="885" y="432" width="1" height="14" fill="#26a69a"/>
<rect x="884" y="435" width="3" height="10" fill="#26a69a"/>
<rect x="890" y="433" width="1" height="6" fill="#ef5350"/>
<rect x="889" y="435" width="3" height="3" fill="#ef5350"/>
<rect x="895" y="421" width="1" height="17" fill="#26a69a"/>
<rect x="894" y="423" width="3" height="15" fill="#26a69a"/>
<rect x="900" y="418" width="1" height="15" fill="#ef5350"/>
<rect x="899" y="423" width="3" height="6" fill="#ef5350"/>
<rect x="904" y="415" width="1" height="22" fill="#ef5350"/>
<rect x="903" y="428" width="3" height="4" fill="#ef5350"/>
<rect x="909" y="398" width="1" height="37" fill="#26a69a"/>
<rect x="908" y="402" width="3" height="30" fill="#26a69a"/>
<rect x="914" y="389" width="1" height="17" fill="#26a69a"/>
<rect x="913" y="396" width="3" height="7" fill="#26a69a"/>
<rect x="919" y="392" width="1" height="19" fill="#26a69a"/>
<rect x="918" y="393" width="3" height="4" fill="#26a69a"/>
<rect x="924" y="382" width="1" height="17" fill="#ef5350"/>
<rect x="923" y="393" width="3" height="5" fill="#ef5350"/>
<rect x="929" y="391" width="1" height="13" fill="#ef5350"/>
<rect x="928" y="397" width="3" height="5" fill="#ef5350"/>
<rect x="934" y="398" width="1" height="12" fill="#ef5350"/>
<rect x="933" y="401" width="3" height="4" fill="#ef5350"/>
<rect x="939" y="391" width="1" height="21" fill="#ef5350"/>
<rect x="938" y="404" width="3" height="1" fill="#ef5350"/>
<rect x="944" y="398" width="1" height="13" fill="#ef5350"/>
<rect x="943" y="404" width="3" height="6" fill="#ef5350"/>
<rect x="949" y="402" width="1" height="19" fill="#26a69a"/>
<rect x="948" y="405" width="3" height="4" fill="#26a69a"/>
<rect x="954" y="389" width="1" height="17" fill="#26a69a"/>
<rect x="953" y="397" width="3" height="9" fill="#26a69a"/>
<rect x="959" y="394" width="1" height="11" fill="#ef5350"/>
<rect x="958" y="397" width="3" height="8" fill="#ef5350"/>
<rect x="964" y="401" width="1" height="8" fill="#ef5350"/>
<rect x="963" y="404" width="3" height="4" fill="#ef5350"/>
<rect x="968" y="404" width="1" height="10" fill="#ef5350"/>
<rect x="967" y="407" width="3" height="7" fill="#ef5350"/>
<rect x="973" y="404" width="1" height="13" fill="#26a69a"/>
<rect x="972" y="407" width="3" height="8" fill="#26a69a"/>
<rect x="978" y="405" width="1" height="14" fill="#26a69a"/>
<rect x="977" y="406" width="3" height="1" fill="#26a69a"/>
<rect x="983" y="400" width="1" height="12" fill="#26a69a"/>
<rect x="982" y="405" width="3" height="1" fill="#26a69a"/>
<rect x="988" y="363" width="1" height="43" fill="#26a69a"/>
<rect x="987" y="365" width="3" height="41" fill="#26a69a"/>
<rect x="993" y="337" width="1" height="36" fill="#26a69a"/>
<rect x="992" y="345" width="3" height="21" fill="#26a69a"/>
<rect x="998" y="330" width="1" height="24" fill="#26a69a"/>
<rect x="997" y="333" width="3" height="13" fill="#26a69a"/>
<rect x="1003" y="327" width="1" height="26" fill="#ef5350"/>
<rect x="1002" y="333" width="3" height="12" fill="#ef5350"/>
<rect x="1008" y="324" width="1" height="32" fill="#26a69a"/>
<rect x="1007" y="342" width="3" height="3" fill="#26a69a"/>
<rect x="1013" y="316" width="1" height="45" fill="#26a69a"/>
<rect x="1012" y="319" width="3" height="24" fill="#26a69a"/>
<rect x="1018" y="316" width="1" height="28" fill="#ef5350"/>
<rect x="1017" y="319" width="3" height="18" fill="#ef5350"/>
<rect x="1023" y="332" width="1" height="27" fill="#ef5350"/>
<rect x="1022" y="336" width="3" height="18" fill="#ef5350"/>
<rect x="1027" y="342" width="1" height="18" fill="#ef5350"/>
<rect x="1026" y="353" width="3" height="6" fill="#ef5350"/>
<rect x="1032" y="352" width="1" height="14" fill="#ef5350"/>
<rect x="1031" y="358" width="3" height="4" fill="#ef5350"/>
<rect x="1037" y="335" width="1" height="29" fill="#26a69a"/>
<rect x="1036" y="344" width="3" height="18" fill="#26a69a"/>
<rect x="1042" y="342" width="1" height="35" fill="#ef5350"/>
<rect x="1041" y="344" width="3" height="16" fill="#ef5350"/>
<rect x="1047" y="344" width="1" height="21" fill="#26a69a"/>
<rect x="1046" y="355" width="3" height="5" fill="#26a69a"/>
<rect x="1052" y="337" width="1" height="26" fill="#26a69a"/>
<rect x="1051" y="343" width="3" height="13" fill="#26a69a"/>
<rect x="1057" y="326" width="1" height="19" fill="#26a69a"/>
<rect x="1056" y="329" width="3" height="15" fill="#26a69a"/>
<rect x="1062" y="310" width="1" height="34" fill="#ef5350"/>
<rect x="1061" y="329" width="3" height="14" fill="#ef5350"/>
<rect x="1067" y="332" width="1" height="14" fill="#26a69a"/>
<rect x="1066" y="338" width="3" height="5" fill="#26a69a"/>
<rect x="1072" y="335" width="1" height="19" fill="#ef5350"/>
<rect x="1071" y="338" width="3" height="1" fill="#ef5350"/>
<rect x="1077" y="330" width="1" height="13" fill="#ef5350"/>
<rect x="1076" y="338" width="3" height="3" fill="#ef5350"/>
<rect x="1082" y="329" width="1" height="20" fill="#26a69a"/>
<rect x="1081" y="336" width="3" height="5" fill="#26a69a"/>
<rect x="1086" y="334" width="1" height="18" fill="#ef5350"/>
<rect x="1085" y="336" width="3" height="11" fill="#ef5350"/>
<rect x="1091" y="339" width="1" height="22" fill="#ef5350"/>
<rect x="1090" y="346" width="3" height="14" fill="#ef5350"/>
<rect x="1096" y="358" width="1" height="27" fill="#ef5350"/>
<rect x="1095" y="359" width="3" height="26" fill="#ef5350"/>
<rect x="1101" y="380" width="1" height="14" fill="#26a69a"/>
<rect x="1100" y="383" width="3" height="1" fill="#26a69a"/>
<rect x="1106" y="380" width="1" height="17" fill="#26a69a"/>
<rect x="1105" y="381" width="3" height="4" fill="#26a69a"/>
<rect x="1111" y="378" width="1" height="17" fill="#ef5350"/>
<rect x="1110" y="381" width="3" height="2" fill="#ef5350"/>
<rect x="1116" y="367" width="1" height="22" fill="#ef5350"/>
<rect x="1115" y="383" width="3" height="5" fill="#ef5350"/>
<rect x="1121" y="380" width="1" height="12" fill="#ef5350"/>
<rect x="1120" y="387" width="3" height="5" fill="#ef5350"/>
<rect x="1126" y="388" width="1" height="31" fill="#ef5350"/>
<rect x="1125" y="391" width="3" height="22" fill="#ef5350"/>
<rect x="1131" y="393" width="1" height="20" fill="#26a69a"/>
<rect x="1130" y="404" width="3" height="9" fill="#26a69a"/>
<rect x="1136" y="392" width="1" height="14" fill="#26a69a"/>
<rect x="1135" y="399" width="3" height="6" fill="#26a69a"/>
<rect x="1141" y="386" width="1" height="18" fill="#26a69a"/>
<rect x="1140" y="393" width="3" height="7" fill="#26a69a"/>
<rect x="1145" y="371" width="1" height="29" fill="#26a69a"/>
<rect x="1144" y="372" width="3" height="22" fill="#26a69a"/>
<rect x="1150" y="362" width="1" height="22" fill="#26a69a"/>
<rect x="1149" y="363" width="3" height="11" fill="#26a69a"/>
<rect x="1155" y="355" width="1" height="22" fill="#ef5350"/>
<rect x="1154" y="363" width="3" height="10" fill="#ef5350"/>
<rect x="1160" y="372" width="1" height="22" fill="#ef5350"/>
<rect x="1159" y="373" width="3" height="21" fill="#ef5350"/>
<rect x="1165" y="393" width="1" height="29" fill="#ef5350"/>
<rect x="1164" y="393" width="3" height="10" fill="#ef5350"/>
<rect x="1170" y="402" width="1" height="16" fill="#ef5350"/>
<rect x="1169" y="402" width="3" height="11" fill="#ef5350"/>
<rect x="1175" y="390" width="1" height="23" fill="#26a69a"/>
<rect x="1174" y="392" width="3" height="21" fill="#26a69a"/>
<rect x="1180" y="378" width="1" height="20" fill="#ef5350"/>
<rect x="1179" y="392" width="3" height="6" fill="#ef5350"/>
<rect x="1185" y="389" width="1" height="20" fill="#ef5350"/>
<rect x="1184" y="397" width="3" height="9" fill="#ef5350"/>
<rect x="1190" y="401" width="1" height="13" fill="#ef5350"/>
<rect x="1189" y="405" width="3" height="5" fill="#ef5350"/>
</g>
<g clip-path="url(#cr)">
<path d="M9.9,592.7 L9.9,604.8 L14.8,601.1 L19.7,594.9 L24.6,583.7 L29.5,628.1 L34.5,616.4 L39.4,605.2 L44.3,602.7 L49.2,600.7 L54.1,617.5 L59.1,634.9 L64.0,642.4 L68.9,643.1 L73.8,653.3 L78.7,666.2 L83.6,640.0 L88.6,605.2 L93.5,592.9 L98.4,587.7 L103.3,587.7 L108.2,577.5 L113.2,565.2 L118.1,593.9 L123.0,590.4 L127.9,604.1 L132.8,593.9 L137.7,600.0 L142.7,579.6 L147.6,577.5 L152.5,582.6 L157.4,587.7 L162.3,570.3 L167.3,569.9 L172.2,575.5 L177.1,581.6 L182.0,622.6 L186.9,629.3 L191.8,615.0 L196.8,623.2 L201.7,616.0 L206.6,627.3 L211.5,629.3 L216.4,649.8 L221.4,637.5 L226.3,645.3 L231.2,635.5 L236.1,633.4 L241.0,631.4 L245.9,633.8 L250.9,671.1 L255.8,675.8 L260.7,650.6 L265.6,651.2 L270.5,655.3 L275.5,663.5 L280.4,655.3 L285.3,669.3 L290.2,655.3 L295.1,679.9 L300.0,696.3 L305.0,694.9 L309.9,708.6 L314.8,709.6 L319.7,689.1 L324.6,675.2 L329.6,674.8 L334.5,687.1 L339.4,692.8 L344.3,669.7 L349.2,677.9 L354.1,674.8 L359.1,678.5 L364.0,667.6 L368.9,643.1 L373.8,627.7 L378.7,630.1 L383.7,637.5 L388.6,629.3 L393.5,658.4 L398.4,666.6 L403.3,683.4 L408.2,677.9 L413.2,676.9 L418.1,675.8 L423.0,685.0 L427.9,673.8 L432.8,640.0 L437.8,631.4 L442.7,621.1 L447.6,581.6 L452.5,597.0 L457.4,614.4 L462.3,607.2 L467.3,601.1 L472.2,608.2 L477.1,608.2 L482.0,604.8 L486.9,631.8 L491.9,640.4 L496.8,651.2 L501.7,649.8 L506.6,635.9 L511.5,646.1 L516.4,669.7 L521.4,680.9 L526.3,662.5 L531.2,673.8 L536.1,684.6 L541.0,690.8 L546.0,686.1 L550.9,674.8 L555.8,673.2 L560.7,673.2 L565.6,676.4 L570.5,678.5 L575.5,681.4 L580.4,671.1 L585.3,678.5 L590.2,687.1 L595.1,701.0 L600.1,710.0 L605.0,710.9 L609.9,693.6 L614.8,703.3 L619.7,695.3 L624.6,700.6 L629.6,727.0 L634.5,720.5 L639.4,728.9 L644.3,721.9 L649.2,698.4 L654.2,704.3 L659.1,646.1 L664.0,684.6 L668.9,680.9 L673.8,678.9 L678.7,682.0 L683.7,685.5 L688.6,688.1 L693.5,697.3 L698.4,705.5 L703.3,693.6 L708.3,691.2 L713.2,694.7 L718.1,676.4 L723.0,672.8 L727.9,684.6 L732.9,680.5 L737.8,684.0 L742.7,666.2 L747.6,676.4 L752.5,674.8 L757.4,674.8 L762.4,666.6 L767.3,650.6 L772.2,645.7 L777.1,657.4 L782.0,656.0 L787.0,671.7 L791.9,679.3 L796.8,678.9 L801.7,679.3 L806.6,673.8 L811.5,690.2 L816.5,690.8 L821.4,674.8 L826.3,679.3 L831.2,703.1 L836.1,700.4 L841.1,702.5 L846.0,666.6 L850.9,677.9 L855.8,658.4 L860.7,638.5 L865.6,646.1 L870.6,644.5 L875.5,651.2 L880.4,641.0 L885.3,634.2 L890.2,635.9 L895.2,625.2 L900.1,629.7 L905.0,633.8 L909.9,610.9 L914.8,607.2 L919.7,605.2 L924.7,610.3 L929.6,615.8 L934.5,619.9 L939.4,620.5 L944.3,626.1 L949.3,622.6 L954.2,614.4 L959.1,625.6 L964.0,631.4 L968.9,641.6 L973.8,633.2 L978.8,632.4 L983.7,630.8 L988.6,588.8 L993.5,576.5 L998.4,569.9 L1003.4,588.4 L1008.3,586.7 L1013.2,574.0 L1018.1,597.0 L1023.0,621.5 L1027.9,626.7 L1032.9,630.8 L1037.8,615.8 L1042.7,634.2 L1047.6,630.8 L1052.5,620.5 L1057.5,609.7 L1062.4,626.1 L1067.3,622.6 L1072.2,622.6 L1077.1,625.2 L1082.0,621.5 L1087.0,637.9 L1091.9,652.3 L1096.8,677.9 L1101.7,676.9 L1106.6,673.2 L1111.6,674.8 L1116.5,679.5 L1121.4,684.6 L1126.3,703.9 L1131.2,691.2 L1136.1,682.0 L1141.1,673.2 L1146.0,646.1 L1150.9,636.9 L1155.8,649.8 L1160.7,670.7 L1165.7,678.9 L1170.6,687.1 L1175.5,662.9 L1180.4,667.6 L1185.3,675.2 L1190.2,679.3 L1190.2,592.7 Z" fill="url(#gob)" clip-path="url(#c70)"/>
</g>
<g clip-path="url(#c30)"><path d="M9.9,712.5 L9.9,604.8 L14.8,601.1 L19.7,594.9 L24.6,583.7 L29.5,628.1 L34.5,616.4 L39.4,605.2 L44.3,602.7 L49.2,600.7 L54.1,617.5 L59.1,634.9 L64.0,642.4 L68.9,643.1 L73.8,653.3 L78.7,666.2 L83.6,640.0 L88.6,605.2 L93.5,592.9 L98.4,587.7 L103.3,587.7 L108.2,577.5 L113.2,565.2 L118.1,593.9 L123.0,590.4 L127.9,604.1 L132.8,593.9 L137.7,600.0 L142.7,579.6 L147.6,577.5 L152.5,582.6 L157.4,587.7 L162.3,570.3 L167.3,569.9 L172.2,575.5 L177.1,581.6 L182.0,622.6 L186.9,629.3 L191.8,615.0 L196.8,623.2 L201.7,616.0 L206.6,627.3 L211.5,629.3 L216.4,649.8 L221.4,637.5 L226.3,645.3 L231.2,635.5 L236.1,633.4 L241.0,631.4 L245.9,633.8 L250.9,671.1 L255.8,675.8 L260.7,650.6 L265.6,651.2 L270.5,655.3 L275.5,663.5 L280.4,655.3 L285.3,669.3 L290.2,655.3 L295.1,679.9 L300.0,696.3 L305.0,694.9 L309.9,708.6 L314.8,709.6 L319.7,689.1 L324.6,675.2 L329.6,674.8 L334.5,687.1 L339.4,692.8 L344.3,669.7 L349.2,677.9 L354.1,674.8 L359.1,678.5 L364.0,667.6 L368.9,643.1 L373.8,627.7 L378.7,630.1 L383.7,637.5 L388.6,629.3 L393.5,658.4 L398.4,666.6 L403.3,683.4 L408.2,677.9 L413.2,676.9 L418.1,675.8 L423.0,685.0 L427.9,673.8 L432.8,640.0 L437.8,631.4 L442.7,621.1 L447.6,581.6 L452.5,597.0 L457.4,614.4 L462.3,607.2 L467.3,601.1 L472.2,608.2 L477.1,608.2 L482.0,604.8 L486.9,631.8 L491.9,640.4 L496.8,651.2 L501.7,649.8 L506.6,635.9 L511.5,646.1 L516.4,669.7 L521.4,680.9 L526.3,662.5 L531.2,673.8 L536.1,684.6 L541.0,690.8 L546.0,686.1 L550.9,674.8 L555.8,673.2 L560.7,673.2 L565.6,676.4 L570.5,678.5 L575.5,681.4 L580.4,671.1 L585.3,678.5 L590.2,687.1 L595.1,701.0 L600.1,710.0 L605.0,710.9 L609.9,693.6 L614.8,703.3 L619.7,695.3 L624.6,700.6 L629.6,727.0 L634.5,720.5 L639.4,728.9 L644.3,721.9 L649.2,698.4 L654.2,704.3 L659.1,646.1 L664.0,684.6 L668.9,680.9 L673.8,678.9 L678.7,682.0 L683.7,685.5 L688.6,688.1 L693.5,697.3 L698.4,705.5 L703.3,693.6 L708.3,691.2 L713.2,694.7 L718.1,676.4 L723.0,672.8 L727.9,684.6 L732.9,680.5 L737.8,684.0 L742.7,666.2 L747.6,676.4 L752.5,674.8 L757.4,674.8 L762.4,666.6 L767.3,650.6 L772.2,645.7 L777.1,657.4 L782.0,656.0 L787.0,671.7 L791.9,679.3 L796.8,678.9 L801.7,679.3 L806.6,673.8 L811.5,690.2 L816.5,690.8 L821.4,674.8 L826.3,679.3 L831.2,703.1 L836.1,700.4 L841.1,702.5 L846.0,666.6 L850.9,677.9 L855.8,658.4 L860.7,638.5 L865.6,646.1 L870.6,644.5 L875.5,651.2 L880.4,641.0 L885.3,634.2 L890.2,635.9 L895.2,625.2 L900.1,629.7 L905.0,633.8 L909.9,610.9 L914.8,607.2 L919.7,605.2 L924.7,610.3 L929.6,615.8 L934.5,619.9 L939.4,620.5 L944.3,626.1 L949.3,622.6 L954.2,614.4 L959.1,625.6 L964.0,631.4 L968.9,641.6 L973.8,633.2 L978.8,632.4 L983.7,630.8 L988.6,588.8 L993.5,576.5 L998.4,569.9 L1003.4,588.4 L1008.3,586.7 L1013.2,574.0 L1018.1,597.0 L1023.0,621.5 L1027.9,626.7 L1032.9,630.8 L1037.8,615.8 L1042.7,634.2 L1047.6,630.8 L1052.5,620.5 L1057.5,609.7 L1062.4,626.1 L1067.3,622.6 L1072.2,622.6 L1077.1,625.2 L1082.0,621.5 L1087.0,637.9 L1091.9,652.3 L1096.8,677.9 L1101.7,676.9 L1106.6,673.2 L1111.6,674.8 L1116.5,679.5 L1121.4,684.6 L1126.3,703.9 L1131.2,691.2 L1136.1,682.0 L1141.1,673.2 L1146.0,646.1 L1150.9,636.9 L1155.8,649.8 L1160.7,670.7 L1165.7,678.9 L1170.6,687.1 L1175.5,662.9 L1180.4,667.6 L1185.3,675.2 L1190.2,679.3 L1190.2,712.5 Z" fill="url(#gos)"/></g>
<g clip-path="url(#cr)">
<polyline points="9.4,632.8 19.3,623.6 24.2,619.1 34.0,615.4 43.8,612.3 53.7,610.3 58.6,609.9 68.4,612.3 78.2,619.5 88.1,624.6 93.0,624.6 97.9,622.6 107.7,618.5 112.7,615.8 117.6,615.4 127.4,611.3 137.2,604.1 142.2,599.0 147.1,592.9 152.0,588.8 156.9,587.7 166.7,584.7 176.6,583.7 181.5,587.7 186.4,590.8 196.2,593.9 206.1,597.0 211.0,600.0 215.9,604.1 225.7,611.3 235.6,621.5 245.4,630.8 255.2,637.9 265.1,642.0 270.0,644.5 280.0,649.2 289.9,651.9 294.8,654.3 299.7,658.0 309.5,668.7 314.4,674.4 324.3,675.8 329.2,677.9 339.0,682.6 348.9,684.4 353.8,685.0 358.7,686.5 363.6,685.0 373.4,676.9 383.3,666.6 388.2,662.1 398.0,660.5 407.9,659.0 417.7,659.4 422.6,660.1 427.7,659.4 432.6,657.4 442.5,656.4 447.4,652.7 452.3,650.2 457.2,649.2 462.1,646.1 467.1,642.0 476.9,631.8 486.7,621.5 491.6,618.5 496.5,617.0 501.5,617.5 506.4,617.9 511.3,619.9 516.2,626.7 521.1,632.2 526.0,635.5 531.0,640.0 535.9,645.7 540.0,651.2 545.7,659.4 550.7,663.5 560.5,668.2 570.3,672.1 580.1,676.9 590.0,678.5 599.8,684.0 604.7,685.5 609.6,685.7 619.5,688.1 624.4,690.2 634.2,696.3 644.1,702.5 653.9,707.2 658.8,704.9 663.7,703.1 673.6,699.0 683.4,696.7 688.3,696.3 693.2,695.7 703.0,692.8 712.9,689.1 717.8,686.7 722.7,684.6 727.6,686.5 737.5,686.5 747.3,685.5 757.1,684.0 762.2,682.0 767.2,678.5 772.1,674.4 777.0,671.7 781.9,669.1 786.8,668.7 796.7,668.7 806.5,667.6 810.0,669.1 816.3,670.3 826.2,671.1 831.1,673.8 840.9,680.9 850.8,683.4 855.7,682.0 865.5,676.9 875.3,673.2 885.2,665.6 895.0,659.4 899.9,654.3 909.8,642.0 919.6,632.8 924.5,629.7 934.3,626.7 944.2,623.2 954.0,619.9 958.9,619.5 968.7,620.5 973.7,620.5 983.5,623.2 988.4,622.0 993.3,619.5 998.2,616.4 1008.1,611.7 1013.0,608.2 1017.9,606.8 1027.7,607.2 1032.7,606.8 1037.6,605.2 1047.4,605.2 1052.3,604.8 1057.4,606.2 1067.3,613.4 1077.1,618.5 1080.0,622.0 1091.9,628.7 1106.6,637.9 1116.5,644.1 1121.4,649.2 1126.3,656.4 1136.1,664.6 1141.0,668.2 1150.9,671.1 1160.7,673.2 1170.5,673.8 1180.4,672.8 1190.2,672.1" fill="none" stroke="#ffeb3b" stroke-width="1.2" stroke-linejoin="round" stroke-linecap="round" />
<polyline points="9.9,604.8 14.8,601.1 19.7,594.9 24.6,583.7 29.5,628.1 34.5,616.4 39.4,605.2 44.3,602.7 49.2,600.7 54.1,617.5 59.1,634.9 64.0,642.4 68.9,643.1 73.8,653.3 78.7,666.2 83.6,640.0 88.6,605.2 93.5,592.9 98.4,587.7 103.3,587.7 108.2,577.5 113.2,565.2 118.1,593.9 123.0,590.4 127.9,604.1 132.8,593.9 137.7,600.0 142.7,579.6 147.6,577.5 152.5,582.6 157.4,587.7 162.3,570.3 167.3,569.9 172.2,575.5 177.1,581.6 182.0,622.6 186.9,629.3 191.8,615.0 196.8,623.2 201.7,616.0 206.6,627.3 211.5,629.3 216.4,649.8 221.4,637.5 226.3,645.3 231.2,635.5 236.1,633.4 241.0,631.4 245.9,633.8 250.9,671.1 255.8,675.8 260.7,650.6 265.6,651.2 270.5,655.3 275.5,663.5 280.4,655.3 285.3,669.3 290.2,655.3 295.1,679.9 300.0,696.3 305.0,694.9 309.9,708.6 314.8,709.6 319.7,689.1 324.6,675.2 329.6,674.8 334.5,687.1 339.4,692.8 344.3,669.7 349.2,677.9 354.1,674.8 359.1,678.5 364.0,667.6 368.9,643.1 373.8,627.7 378.7,630.1 383.7,637.5 388.6,629.3 393.5,658.4 398.4,666.6 403.3,683.4 408.2,677.9 413.2,676.9 418.1,675.8 423.0,685.0 427.9,673.8 432.8,640.0 437.8,631.4 442.7,621.1 447.6,581.6 452.5,597.0 457.4,614.4 462.3,607.2 467.3,601.1 472.2,608.2 477.1,608.2 482.0,604.8 486.9,631.8 491.9,640.4 496.8,651.2 501.7,649.8 506.6,635.9 511.5,646.1 516.4,669.7 521.4,680.9 526.3,662.5 531.2,673.8 536.1,684.6 541.0,690.8 546.0,686.1 550.9,674.8 555.8,673.2 560.7,673.2 565.6,676.4 570.5,678.5 575.5,681.4 580.4,671.1 585.3,678.5 590.2,687.1 595.1,701.0 600.1,710.0 605.0,710.9 609.9,693.6 614.8,703.3 619.7,695.3 624.6,700.6 629.6,727.0 634.5,720.5 639.4,728.9 644.3,721.9 649.2,698.4 654.2,704.3 659.1,646.1 664.0,684.6 668.9,680.9 673.8,678.9 678.7,682.0 683.7,685.5 688.6,688.1 693.5,697.3 698.4,705.5 703.3,693.6 708.3,691.2 713.2,694.7 718.1,676.4 723.0,672.8 727.9,684.6 732.9,680.5 737.8,684.0 742.7,666.2 747.6,676.4 752.5,674.8 757.4,674.8 762.4,666.6 767.3,650.6 772.2,645.7 777.1,657.4 782.0,656.0 787.0,671.7 791.9,679.3 796.8,678.9 801.7,679.3 806.6,673.8 811.5,690.2 816.5,690.8 821.4,674.8 826.3,679.3 831.2,703.1 836.1,700.4 841.1,702.5 846.0,666.6 850.9,677.9 855.8,658.4 860.7,638.5 865.6,646.1 870.6,644.5 875.5,651.2 880.4,641.0 885.3,634.2 890.2,635.9 895.2,625.2 900.1,629.7 905.0,633.8 909.9,610.9 914.8,607.2 919.7,605.2 924.7,610.3 929.6,615.8 934.5,619.9 939.4,620.5 944.3,626.1 949.3,622.6 954.2,614.4 959.1,625.6 964.0,631.4 968.9,641.6 973.8,633.2 978.8,632.4 983.7,630.8 988.6,588.8 993.5,576.5 998.4,569.9 1003.4,588.4 1008.3,586.7 1013.2,574.0 1018.1,597.0 1023.0,621.5 1027.9,626.7 1032.9,630.8 1037.8,615.8 1042.7,634.2 1047.6,630.8 1052.5,620.5 1057.5,609.7 1062.4,626.1 1067.3,622.6 1072.2,622.6 1077.1,625.2 1082.0,621.5 1087.0,637.9 1091.9,652.3 1096.8,677.9 1101.7,676.9 1106.6,673.2 1111.6,674.8 1116.5,679.5 1121.4,684.6 1126.3,703.9 1131.2,691.2 1136.1,682.0 1141.1,673.2 1146.0,646.1 1150.9,636.9 1155.8,649.8 1160.7,670.7 1165.7,678.9 1170.6,687.1 1175.5,662.9 1180.4,667.6 1185.3,675.2 1190.2,679.3" fill="none" stroke="#7e57c2" stroke-width="3" stroke-linejoin="round" stroke-linecap="round" />
</g>
<line x1="10" y1="592.5" x2="1291" y2="592.5" stroke="#787b86" stroke-width="1" stroke-dasharray="5 6" stroke-dashoffset="0"/>
<line x1="10" y1="652.5" x2="1291" y2="652.5" stroke="#787b86" stroke-width="1" stroke-dasharray="5 6" stroke-dashoffset="0"/>
<line x1="10" y1="712.5" x2="1291" y2="712.5" stroke="#787b86" stroke-width="1" stroke-dasharray="5 6" stroke-dashoffset="0"/>
<text x="10.3" y="19.0" font-size="12" fill="#000000" font-weight="normal" font-family="Liberation Sans, sans-serif" text-anchor="start" textLength="360.0" lengthAdjust="spacingAndGlyphs" stroke="#000000" stroke-width="0.3" >ranadagger published on TradingView.com, Jun 18, 2025 15:08 UTC</text>
<text x="18.0" y="45.6" font-size="11.6" fill="#131722" font-weight="normal" font-family="Liberation Sans, sans-serif" text-anchor="start" textLength="164.4" lengthAdjust="spacingAndGlyphs" stroke="#131722" stroke-width="0.3" >SOL / TetherUS · 1D · BINANCE</text>
<text x="190.0" y="45.6" font-size="11.6" fill="#131722" font-weight="normal" font-family="Liberation Sans, sans-serif" text-anchor="start" textLength="8.0" lengthAdjust="spacingAndGlyphs" stroke="#131722" stroke-width="0.3" >O</text>
<text x="198.5" y="45.6" font-size="11.6" fill="#f23645" font-weight="normal" font-family="Liberation Sans, sans-serif" text-anchor="start" textLength="34.5" lengthAdjust="spacingAndGlyphs" stroke="#f23645" stroke-width="0.3" >147.58</text>
<text x="241.6" y="45.6" font-size="11.6" fill="#131722" font-weight="normal" font-family="Liberation Sans, sans-serif" text-anchor="start" textLength="7.5" lengthAdjust="spacingAndGlyphs" stroke="#131722" stroke-width="0.3" >H</text>
<text x="249.8" y="45.6" font-size="11.6" fill="#f23645" font-weight="normal" font-family="Liberation Sans, sans-serif" text-anchor="start" textLength="34.8" lengthAdjust="spacingAndGlyphs" stroke="#f23645" stroke-width="0.3" >149.28</text>
<text x="292.9" y="45.6" font-size="11.6" fill="#131722" font-weight="normal" font-family="Liberation Sans, sans-serif" text-anchor="start" textLength="5.5" lengthAdjust="spacingAndGlyphs" stroke="#131722" stroke-width="0.3" >L</text>
<text x="298.9" y="45.6" font-size="11.6" fill="#f23645" font-weight="normal" font-family="Liberation Sans, sans-serif" text-anchor="start" textLength="34.4" lengthAdjust="spacingAndGlyphs" stroke="#f23645" stroke-width="0.3" >143.76</text>
<text x="341.6" y="45.6" font-size="11.6" fill="#131722" font-weight="normal" font-family="Liberation Sans, sans-serif" text-anchor="start" textLength="7.0" lengthAdjust="spacingAndGlyphs" stroke="#131722" stroke-width="0.3" >C</text>
<text x="349.0" y="45.6" font-size="11.6" fill="#f23645" font-weight="normal" font-family="Liberation Sans, sans-serif" text-anchor="start" textLength="34.9" lengthAdjust="spacingAndGlyphs" stroke="#f23645" stroke-width="0.3" >145.85</text>
<text x="392.0" y="45.6" font-size="11.6" fill="#f23645" font-weight="normal" font-family="Liberation Sans, sans-serif" text-anchor="start" textLength="77.3" lengthAdjust="spacingAndGlyphs" stroke="#f23645" stroke-width="0.3" >−1.72 (−1.17%)</text>
<text x="18.0" y="62.8" font-size="11.6" fill="#131722" font-weight="normal" font-family="Liberation Sans, sans-serif" text-anchor="start" textLength="81.3" lengthAdjust="spacingAndGlyphs" stroke="#131722" stroke-width="0.3" >EMA (20, close)</text>
<text x="107.9" y="62.8" font-size="11.6" fill="#2962ff" font-weight="normal" font-family="Liberation Sans, sans-serif" text-anchor="start" textLength="35.5" lengthAdjust="spacingAndGlyphs" stroke="#2962ff" stroke-width="0.3" >154.14</text>
<text x="18.0" y="79.6" font-size="11.6" fill="#131722" font-weight="normal" font-family="Liberation Sans, sans-serif" text-anchor="start" textLength="80.5" lengthAdjust="spacingAndGlyphs" stroke="#131722" stroke-width="0.3" >SMA (50, close)</text>
<text x="107.9" y="79.6" font-size="11.6" fill="#f23645" font-weight="normal" font-family="Liberation Sans, sans-serif" text-anchor="start" textLength="34.4" lengthAdjust="spacingAndGlyphs" stroke="#f23645" stroke-width="0.3" >160.83</text>
<text x="18.0" y="576.2" font-size="11.6" fill="#131722" font-weight="normal" font-family="Liberation Sans, sans-serif" text-anchor="start" textLength="76.0" lengthAdjust="spacingAndGlyphs" stroke="#131722" stroke-width="0.3" >RSI (14, close)</text>
<text x="102.0" y="576.2" font-size="11.6" fill="#7e57c2" font-weight="normal" font-family="Liberation Sans, sans-serif" text-anchor="start" textLength="28.5" lengthAdjust="spacingAndGlyphs" stroke="#7e57c2" stroke-width="0.3" >41.03</text>
<text x="138.5" y="576.2" font-size="11.6" fill="#ffeb3b" font-weight="normal" font-family="Liberation Sans, sans-serif" text-anchor="start" textLength="28.5" lengthAdjust="spacingAndGlyphs" stroke="#ffeb3b" stroke-width="0.3" >43.37</text>
<text x="175.5" y="576.2" font-size="10.5" fill="#131722" font-weight="normal" font-family="Liberation Sans, sans-serif" text-anchor="start" textLength="7.4" lengthAdjust="spacingAndGlyphs" stroke="#131722" stroke-width="0.3" >Ø</text>
<text x="190.7" y="576.2" font-size="10.5" fill="#131722" font-weight="normal" font-family="Liberation Sans, sans-serif" text-anchor="start" textLength="7.4" lengthAdjust="spacingAndGlyphs" stroke="#131722" stroke-width="0.3" >Ø</text>
<text x="205.6" y="576.2" font-size="10.5" fill="#131722" font-weight="normal" font-family="Liberation Sans, sans-serif" text-anchor="start" textLength="7.4" lengthAdjust="spacingAndGlyphs" stroke="#131722" stroke-width="0.3" >Ø</text>
<text x="220.6" y="576.2" font-size="10.5" fill="#131722" font-weight="normal" font-family="Liberation Sans, sans-serif" text-anchor="start" textLength="7.4" lengthAdjust="spacingAndGlyphs" stroke="#131722" stroke-width="0.3" >Ø</text>
<text x="1300.4" y="94.2" font-size="11.6" fill="#131722" font-weight="normal" font-family="Liberation Sans, sans-serif" text-anchor="start" textLength="35.0" lengthAdjust="spacingAndGlyphs" stroke="#131722" stroke-width="0.3" >280.00</text>
<text x="1300.4" y="189.2" font-size="11.6" fill="#131722" font-weight="normal" font-family="Liberation Sans, sans-serif" text-anchor="start" textLength="35.0" lengthAdjust="spacingAndGlyphs" stroke="#131722" stroke-width="0.3" >240.00</text>
<text x="1300.4" y="236.2" font-size="11.6" fill="#131722" font-weight="normal" font-family="Liberation Sans, sans-serif" text-anchor="start" textLength="35.0" lengthAdjust="spacingAndGlyphs" stroke="#131722" stroke-width="0.3" >220.00</text>
<text x="1300.4" y="283.2" font-size="11.6" fill="#131722" font-weight="normal" font-family="Liberation Sans, sans-serif" text-anchor="start" textLength="35.0" lengthAdjust="spacingAndGlyphs" stroke="#131722" stroke-width="0.3" >200.00</text>
<text x="1300.4" y="331.2" font-size="11.6" fill="#131722" font-weight="normal" font-family="Liberation Sans, sans-serif" text-anchor="start" textLength="35.0" lengthAdjust="spacingAndGlyphs" stroke="#131722" stroke-width="0.3" >180.00</text>
<text x="1300.4" y="473.2" font-size="11.6" fill="#131722" font-weight="normal" font-family="Liberation Sans, sans-serif" text-anchor="start" textLength="35.0" lengthAdjust="spacingAndGlyphs" stroke="#131722" stroke-width="0.3" >120.00</text>
<text x="1300.4" y="520.2" font-size="11.6" fill="#131722" font-weight="normal" font-family="Liberation Sans, sans-serif" text-anchor="start" textLength="35.0" lengthAdjust="spacingAndGlyphs" stroke="#131722" stroke-width="0.3" >100.00</text>
<text x="1300.4" y="566.5" font-size="11.6" fill="#131722" font-weight="normal" font-family="Liberation Sans, sans-serif" text-anchor="start" textLength="29.3" lengthAdjust="spacingAndGlyphs" stroke="#131722" stroke-width="0.3" >80.00</text>
<text x="1300.4" y="596.5" font-size="11.6" fill="#131722" font-weight="normal" font-family="Liberation Sans, sans-serif" text-anchor="start" textLength="29.3" lengthAdjust="spacingAndGlyphs" stroke="#131722" stroke-width="0.3" >70.00</text>
<text x="1300.4" y="626.4" font-size="11.6" fill="#131722" font-weight="normal" font-family="Liberation Sans, sans-serif" text-anchor="start" textLength="29.3" lengthAdjust="spacingAndGlyphs" stroke="#131722" stroke-width="0.3" >60.00</text>
<text x="1300.4" y="656.4" font-size="11.6" fill="#131722" font-weight="normal" font-family="Liberation Sans, sans-serif" text-anchor="start" textLength="29.3" lengthAdjust="spacingAndGlyphs" stroke="#131722" stroke-width="0.3" >50.00</text>
<text x="1300.4" y="716.3" font-size="11.6" fill="#131722" font-weight="normal" font-family="Liberation Sans, sans-serif" text-anchor="start" textLength="29.3" lengthAdjust="spacingAndGlyphs" stroke="#131722" stroke-width="0.3" >30.00</text>
<rect x="1295" y="31" width="58" height="26" rx="4" fill="#fff" stroke="#eff0f3" stroke-width="1.5"/>
<text x="1304.2" y="49.0" font-size="11.6" fill="#131722" font-weight="normal" font-family="Liberation Sans, sans-serif" text-anchor="start" textLength="28.0" lengthAdjust="spacingAndGlyphs" stroke="#131722" stroke-width="0.3" >USDT</text>
<path d="M1292.0,130.0 H1339.0 Q1341.0,130.0 1341.0,132.0 V145.0 Q1341.0,147.0 1339.0,147.0 H1292.0 Q1292.0,147.0 1292.0,147.0 V130.0 Q1292.0,130.0 1292.0,130.0 Z" fill="#0000ff"/>
<text x="1300.7" y="142.8" font-size="11.6" fill="#fff" font-weight="bold" font-family="Liberation Sans, sans-serif" text-anchor="start" textLength="35.0" lengthAdjust="spacingAndGlyphs" >260.00</text>
<path d="M1292.0,308.0 H1339.0 Q1341.0,308.0 1341.0,310.0 V323.0 Q1341.0,325.0 1339.0,325.0 H1292.0 Q1292.0,325.0 1292.0,325.0 V308.0 Q1292.0,308.0 1292.0,308.0 Z" fill="#0000ff"/>
<text x="1300.7" y="320.8" font-size="11.6" fill="#fff" font-weight="bold" font-family="Liberation Sans, sans-serif" text-anchor="start" textLength="35.0" lengthAdjust="spacingAndGlyphs" >185.00</text>
<path d="M1292.0,446.0 H1339.0 Q1341.0,446.0 1341.0,448.0 V461.0 Q1341.0,463.0 1339.0,463.0 H1292.0 Q1292.0,463.0 1292.0,463.0 V446.0 Q1292.0,446.0 1292.0,446.0 Z" fill="#0000ff"/>
<text x="1300.7" y="458.8" font-size="11.6" fill="#fff" font-weight="bold" font-family="Liberation Sans, sans-serif" text-anchor="start" textLength="35.0" lengthAdjust="spacingAndGlyphs" >140.00</text>
<path d="M1292.0,486.0 H1339.0 Q1341.0,486.0 1341.0,488.0 V501.0 Q1341.0,503.0 1339.0,503.0 H1292.0 Q1292.0,503.0 1292.0,503.0 V486.0 Q1292.0,486.0 1292.0,486.0 Z" fill="#0000ff"/>
<text x="1300.7" y="498.8" font-size="11.6" fill="#fff" font-weight="bold" font-family="Liberation Sans, sans-serif" text-anchor="start" textLength="35.0" lengthAdjust="spacingAndGlyphs" >110.00</text>
<path d="M1243.0,364.0 H1291.0 Q1291.0,364.0 1291.0,364.0 V381.0 Q1291.0,381.0 1291.0,381.0 H1243.0 Q1241.0,381.0 1241.0,379.0 V366.0 Q1241.0,364.0 1243.0,364.0 Z" fill="#f23645"/>
<path d="M1292.0,364.0 H1339.0 Q1341.0,364.0 1341.0,366.0 V379.0 Q1341.0,381.0 1339.0,381.0 H1292.0 Q1292.0,381.0 1292.0,381.0 V364.0 Q1292.0,364.0 1292.0,364.0 Z" fill="#f23645"/>
<text x="1246.0" y="376.8" font-size="11.6" fill="#fff" font-weight="bold" font-family="Liberation Sans, sans-serif" text-anchor="start" textLength="41.1" lengthAdjust="spacingAndGlyphs" >SMA:MA</text>
<text x="1300.7" y="376.8" font-size="11.6" fill="#fff" font-weight="bold" font-family="Liberation Sans, sans-serif" text-anchor="start" textLength="34.5" lengthAdjust="spacingAndGlyphs" >160.83</text>
<path d="M1262.0,381.0 H1291.0 Q1291.0,381.0 1291.0,381.0 V398.0 Q1291.0,398.0 1291.0,398.0 H1262.0 Q1260.0,398.0 1260.0,396.0 V383.0 Q1260.0,381.0 1262.0,381.0 Z" fill="#2962ff"/>
<path d="M1292.0,381.0 H1339.0 Q1341.0,381.0 1341.0,383.0 V396.0 Q1341.0,398.0 1339.0,398.0 H1292.0 Q1292.0,398.0 1292.0,398.0 V381.0 Q1292.0,381.0 1292.0,381.0 Z" fill="#2962ff"/>
<text x="1265.1" y="393.8" font-size="11.6" fill="#fff" font-weight="bold" font-family="Liberation Sans, sans-serif" text-anchor="start" textLength="22.0" lengthAdjust="spacingAndGlyphs" >EMA</text>
<text x="1300.7" y="393.8" font-size="11.6" fill="#fff" font-weight="bold" font-family="Liberation Sans, sans-serif" text-anchor="start" textLength="35.0" lengthAdjust="spacingAndGlyphs" >154.14</text>
<path d="M1237.0,401.0 H1291.0 Q1291.0,401.0 1291.0,401.0 V418.0 Q1291.0,418.0 1291.0,418.0 H1237.0 Q1235.0,418.0 1235.0,416.0 V403.0 Q1235.0,401.0 1237.0,401.0 Z" fill="#ef5350"/>
<path d="M1292.0,401.0 H1350.0 Q1352.0,401.0 1352.0,403.0 V444.0 Q1352.0,446.0 1350.0,446.0 H1292.0 Q1292.0,446.0 1292.0,446.0 V401.0 Q1292.0,401.0 1292.0,401.0 Z" fill="#ef5350"/>
<text x="1239.3" y="413.8" font-size="11.6" fill="#fff" font-weight="normal" font-family="Liberation Sans, sans-serif" text-anchor="start" textLength="46.3" lengthAdjust="spacingAndGlyphs" stroke="#fff" stroke-width="0.3" >SOLUSDT</text>
<text x="1300.7" y="413.8" font-size="11.6" fill="#fff" font-weight="bold" font-family="Liberation Sans, sans-serif" text-anchor="start" textLength="35.0" lengthAdjust="spacingAndGlyphs" >145.85</text>
<text x="1300.0" y="428.0" font-size="11.6" fill="#fff" font-weight="normal" font-family="Liberation Sans, sans-serif" text-anchor="start" textLength="42.5" lengthAdjust="spacingAndGlyphs" stroke="#fff" stroke-width="0.3" >−12.87%</text>
<text x="1300.0" y="442.2" font-size="11.6" fill="#fff" font-weight="normal" font-family="Liberation Sans, sans-serif" text-anchor="start" textLength="46.0" lengthAdjust="spacingAndGlyphs" stroke="#fff" stroke-width="0.3" fill-opacity="0.75">08:51:36</text>
<path d="M1214.0,654.0 H1291.0 Q1291.0,654.0 1291.0,654.0 V671.0 Q1291.0,671.0 1291.0,671.0 H1214.0 Q1212.0,671.0 1212.0,669.0 V656.0 Q1212.0,654.0 1214.0,654.0 Z" fill="#ffeb3b"/>
<path d="M1292.0,654.0 H1333.0 Q1335.0,654.0 1335.0,656.0 V669.0 Q1335.0,671.0 1333.0,671.0 H1292.0 Q1292.0,671.0 1292.0,671.0 V654.0 Q1292.0,654.0 1292.0,654.0 Z" fill="#ffeb3b"/>
<text x="1216.5" y="666.8" font-size="11.6" fill="#131722" font-weight="normal" font-family="Liberation Sans, sans-serif" text-anchor="start" textLength="70.0" lengthAdjust="spacingAndGlyphs" stroke="#131722" stroke-width="0.3" >RSI-based MA</text>
<text x="1300.4" y="666.8" font-size="11.6" fill="#131722" font-weight="normal" font-family="Liberation Sans, sans-serif" text-anchor="start" textLength="29.0" lengthAdjust="spacingAndGlyphs" stroke="#131722" stroke-width="0.3" >43.37</text>
<path d="M1268.0,672.0 H1291.0 Q1291.0,672.0 1291.0,672.0 V688.0 Q1291.0,688.0 1291.0,688.0 H1268.0 Q1266.0,688.0 1266.0,686.0 V674.0 Q1266.0,672.0 1268.0,672.0 Z" fill="#7e57c2"/>
<path d="M1292.0,672.0 H1333.0 Q1335.0,672.0 1335.0,674.0 V686.0 Q1335.0,688.0 1333.0,688.0 H1292.0 Q1292.0,688.0 1292.0,688.0 V672.0 Q1292.0,672.0 1292.0,672.0 Z" fill="#7e57c2"/>
<text x="1271.0" y="684.3" font-size="11.6" fill="#fff" font-weight="bold" font-family="Liberation Sans, sans-serif" text-anchor="start" textLength="16.0" lengthAdjust="spacingAndGlyphs" >RSI</text>
<text x="1300.4" y="684.3" font-size="11.6" fill="#fff" font-weight="bold" font-family="Liberation Sans, sans-serif" text-anchor="start" textLength="29.5" lengthAdjust="spacingAndGlyphs" >41.03</text>
<line x1="1291.5" y1="364" x2="1291.5" y2="418" stroke="#ffffff" stroke-opacity="0.35" stroke-width="1"/>
<line x1="1291.5" y1="654" x2="1291.5" y2="688" stroke="#ffffff" stroke-opacity="0.35" stroke-width="1"/>
<text x="53.6" y="756.0" font-size="11.6" fill="#131722" font-weight="normal" font-family="Liberation Sans, sans-serif" text-anchor="start" textLength="19.7" lengthAdjust="spacingAndGlyphs" stroke="#131722" stroke-width="0.3" >Nov</text>
<text x="201.5" y="756.0" font-size="11.6" fill="#131722" font-weight="normal" font-family="Liberation Sans, sans-serif" text-anchor="start" textLength="19.0" lengthAdjust="spacingAndGlyphs" stroke="#131722" stroke-width="0.3" >Dec</text>
<text x="350.2" y="756.0" font-size="11.6" fill="#131722" font-weight="bold" font-family="Liberation Sans, sans-serif" text-anchor="start" textLength="26.6" lengthAdjust="spacingAndGlyphs" >2025</text>
<text x="506.7" y="756.0" font-size="11.6" fill="#131722" font-weight="normal" font-family="Liberation Sans, sans-serif" text-anchor="start" textLength="18.5" lengthAdjust="spacingAndGlyphs" stroke="#131722" stroke-width="0.3" >Feb</text>
<text x="643.9" y="756.0" font-size="11.6" fill="#131722" font-weight="normal" font-family="Liberation Sans, sans-serif" text-anchor="start" textLength="19.5" lengthAdjust="spacingAndGlyphs" stroke="#131722" stroke-width="0.3" >Mar</text>
<text x="796.9" y="756.0" font-size="11.6" fill="#131722" font-weight="normal" font-family="Liberation Sans, sans-serif" text-anchor="start" textLength="18.5" lengthAdjust="spacingAndGlyphs" stroke="#131722" stroke-width="0.3" >Apr</text>
<text x="942.7" y="756.0" font-size="11.6" fill="#131722" font-weight="normal" font-family="Liberation Sans, sans-serif" text-anchor="start" textLength="22.0" lengthAdjust="spacingAndGlyphs" stroke="#131722" stroke-width="0.3" >May</text>
<text x="1097.1" y="756.0" font-size="11.6" fill="#131722" font-weight="normal" font-family="Liberation Sans, sans-serif" text-anchor="start" textLength="18.0" lengthAdjust="spacingAndGlyphs" stroke="#131722" stroke-width="0.3" >Jun</text>
<text x="1246.2" y="756.0" font-size="11.6" fill="#131722" font-weight="normal" font-family="Liberation Sans, sans-serif" text-anchor="start" textLength="15.0" lengthAdjust="spacingAndGlyphs" stroke="#131722" stroke-width="0.3" >Jul</text>
<rect x="1013.7" y="280" width="3.3" height="17" fill="#089981"/><rect x="1023.6" y="280" width="3.3" height="17" fill="#089981"/><rect x="1013.7" y="286.9" width="13" height="3" fill="#089981"/>
<text x="918.6" y="362.9" font-size="23" fill="#089981" font-weight="bold" font-family="Liberation Sans, sans-serif" text-anchor="start" textLength="11.7" lengthAdjust="spacingAndGlyphs" >S</text>
<text x="1149.6" y="349.9" font-size="23" fill="#089981" font-weight="bold" font-family="Liberation Sans, sans-serif" text-anchor="start" textLength="11.7" lengthAdjust="spacingAndGlyphs" >S</text>
<circle cx="1190.5" cy="543.4" r="10" fill="none" stroke="#9c27b0" stroke-width="1.3"/>
<path d="M1193.8,538 L1186.3,543.7 L1190.3,543.9 L1187.3,549 L1194.7,543.2 L1190.7,543 Z" fill="#9c27b0" stroke="#9c27b0" stroke-width="0.5" stroke-linejoin="round"/>
<path d="M9.9,778.2 H18 V787.8 H13.6 V782.1 H9.9 Z" fill="#131722"/>
<circle cx="21.1" cy="780.1" r="1.75" fill="#131722"/>
<path d="M25,778.2 H29.9 L26.2,787.8 H21.1 Z" fill="#131722"/>
<text x="33.2" y="787.8" font-size="13.5" fill="#131722" font-weight="normal" font-family="Liberation Sans, sans-serif" text-anchor="start" textLength="70.0" lengthAdjust="spacingAndGlyphs" stroke="#131722" stroke-width="0.3" >TradingView</text>
</svg>
</body></html>
